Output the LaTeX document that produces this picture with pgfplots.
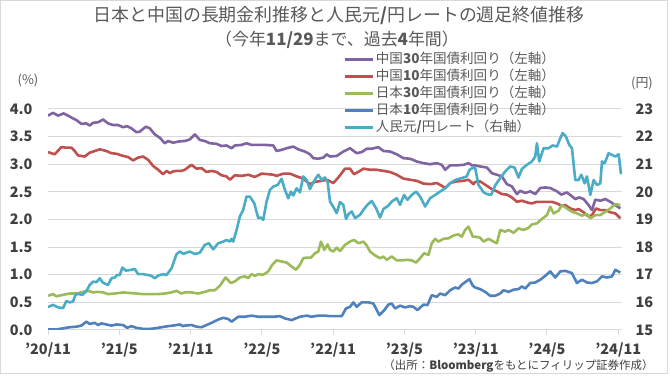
\documentclass[border=0pt]{standalone}
\usepackage{fontspec}
\setmainfont{Noto Sans CJK JP}
\usepackage{pgfplots}
\pgfplotsset{compat=1.18}
\definecolor{cP}{HTML}{8064A2}
\definecolor{cR}{HTML}{C0504D}
\definecolor{cG}{HTML}{9BBB59}
\definecolor{cB}{HTML}{4F81BD}
\definecolor{cC}{HTML}{4BACC6}
\definecolor{tgray}{HTML}{595959}
\definecolor{kgray}{HTML}{404040}
\definecolor{grid}{HTML}{D9D9D9}
\begin{document}
\begin{tikzpicture}
\path[use as bounding box] (0bp,0bp) rectangle (670bp,376bp);
\draw[color=grid, line width=1bp] (0.5bp,2.5bp) rectangle (667.5bp,375.5bp);
\node[font=\fontsize{18}{20}\selectfont, text=tgray] at (339bp,360bp) {日本と中国の長期金利推移と人民元\textbf{/}円レートの週足終値推移};
\node[font=\fontsize{17}{20}\selectfont, text=tgray] at (337bp,336.5bp) {（今年\textbf{11/29}まで、過去\textbf{4}年間）};
\node[font=\fontsize{13}{15}\selectfont, text=tgray] at (28bp,296bp) {(\%)};
\node[font=\fontsize{13}{15}\selectfont, text=tgray] at (642bp,293bp) {(円)};
\node[font=\fontsize{11.5}{13}\selectfont, text=kgray, anchor=east] at (657bp,10bp) {（出所：\textbf{Bloomberg}をもとにフィリップ証券作成）};

\begin{axis}[
  at={(48bp,46bp)}, anchor=south west,
  width=574bp, height=221bp, scale only axis,
  xmin=145, xmax=1865, ymin=0, ymax=4,
  axis x line*=bottom, axis y line*=left,
  x axis line style={-, color=grid, line width=1bp},
  y axis line style={draw=none},
  ytick style={draw=none},
  xtick style={color=grid, line width=1bp},
  tick align=outside, major tick length=5bp,
  xtick={145,358.6,572.2,785.8,999.4,1213,1426.6,1640.2,1853.8},
  xticklabels={’20/11,’21/5,’21/11,’22/5,’22/11,’23/5,’23/11,’24/5,’24/11},
  ytick={0,0.5,...,4},
  ymajorgrids, grid style={color=grid, line width=1bp},
  /pgf/number format/assume math mode=true,
  /pgf/number format/fixed, /pgf/number format/fixed zerofill, /pgf/number format/precision=1,
  ticklabel style={font=\fontsize{14.5}{16}\selectfont\bfseries, text=kgray},
  yticklabel style={xshift=-7bp},
  xticklabel style={yshift=-4bp},
  legend style={at={(0.515,1.262)}, anchor=north west, draw=none, fill=none,
    font=\fontsize{13.6}{15}\selectfont, text=tgray, inner sep=0pt,
    nodes={inner sep=1.5bp, text height=11bp, text depth=3bp}},
  legend cell align=left,
  legend image code/.code={\draw[#1, line width=2.6bp] (0bp,0bp) -- (28bp,0bp);},
  every axis plot/.append style={line width=2.6bp, line join=round},
]
\addplot[cP] coordinates {
(145,3.88)(160,3.93)(175,3.88)(192,3.92)(205,3.88)(220,3.83)(230,3.80)(245,3.73)(260,3.74)(270,3.70)(280,3.75)(295,3.76)(310,3.81)(325,3.74)(340,3.71)(355,3.71)(370,3.67)(382,3.69)(395,3.65)(410,3.58)(420,3.59)(438,3.68)(450,3.65)(465,3.54)(480,3.48)(495,3.38)(505,3.42)(520,3.39)(535,3.41)(550,3.42)
(555,3.42)(570,3.45)(585,3.54)(600,3.44)(615,3.42)(630,3.38)(650,3.37)(665,3.33)(680,3.34)(695,3.29)(705,3.34)(725,3.35)(740,3.38)(755,3.35)(775,3.35)(795,3.35)(820,3.34)(830,3.24)(845,3.26)(860,3.29)(880,3.32)(895,3.27)(915,3.23)(930,3.18)(940,3.11)(955,3.10)(970,3.12)(980,3.18)
(990,3.14)(1010,3.15)(1030,3.23)(1050,3.29)(1070,3.20)(1085,3.22)(1100,3.28)(1115,3.28)(1135,3.31)(1150,3.24)(1170,3.23)(1190,3.18)(1210,3.11)(1230,3.10)(1250,3.05)(1270,3.02)(1290,3.00)(1310,3.02)(1325,2.99)(1335,2.90)(1350,2.98)(1370,2.98)(1390,2.99)(1405,3.02)(1415,2.98)
(1425,2.98)(1440,2.96)(1460,2.94)(1475,2.84)(1490,2.81)(1505,2.78)(1520,2.64)(1535,2.60)(1550,2.46)(1560,2.52)(1575,2.48)(1590,2.51)(1605,2.46)(1620,2.57)(1635,2.58)(1650,2.57)(1670,2.51)(1683,2.45)(1700,2.49)(1715,2.42)(1725,2.37)(1737,2.40)(1750,2.37)(1765,2.26)(1775,2.17)(1785,2.36)(1800,2.34)(1815,2.37)(1830,2.32)(1845,2.26)(1860,2.20)
};
\addlegendentry{中国\textbf{30}年国債利回り（左軸）}
\addplot[cR] coordinates {
(145,3.22)(165,3.18)(185,3.31)(200,3.30)(215,3.30)(225,3.24)(235,3.16)(255,3.14)(270,3.21)(285,3.24)(300,3.27)(320,3.24)(335,3.20)(350,3.19)(365,3.16)(385,3.13)(400,3.07)(415,3.12)(430,3.14)(445,3.08)(460,2.97)(475,2.90)(490,2.82)(500,2.88)(510,2.84)(520,2.87)(530,2.88)(545,2.88)
(555,2.90)(575,2.99)(590,2.92)(605,2.93)(620,2.86)(635,2.88)(650,2.86)(665,2.80)(680,2.78)(690,2.72)(705,2.80)(725,2.79)(745,2.81)(765,2.77)(785,2.83)(805,2.82)(820,2.81)(830,2.79)(850,2.83)(870,2.83)(890,2.78)(910,2.74)(930,2.64)(945,2.68)(965,2.70)(980,2.72)
(990,2.69)(1000,2.66)(1015,2.76)(1035,2.92)(1050,2.92)(1062,2.82)(1080,2.88)(1090,2.92)(1110,2.90)(1130,2.90)(1150,2.88)(1170,2.86)(1190,2.81)(1210,2.74)(1230,2.72)(1250,2.70)(1270,2.65)(1290,2.64)(1310,2.66)(1325,2.61)(1335,2.57)(1350,2.66)(1370,2.69)(1390,2.70)(1405,2.72)(1420,2.64)
(1425,2.68)(1440,2.69)(1455,2.63)(1475,2.55)(1490,2.51)(1505,2.46)(1520,2.45)(1535,2.40)(1550,2.32)(1565,2.34)(1580,2.31)(1595,2.29)(1610,2.32)(1625,2.32)(1640,2.32)(1655,2.32)(1670,2.29)(1683,2.25)(1695,2.26)(1710,2.20)(1725,2.17)(1735,2.19)(1750,2.13)(1765,2.05)(1775,2.08)(1787,2.20)(1800,2.17)(1815,2.17)(1830,2.13)(1845,2.11)(1860,2.02)
};
\addlegendentry{中国\textbf{10}年国債利回り（左軸）}
\addplot[cG] coordinates {
(145,0.62)(160,0.65)(170,0.61)(185,0.63)(210,0.66)(230,0.66)(250,0.69)(265,0.71)(280,0.68)(295,0.69)(310,0.68)(325,0.65)(345,0.66)(370,0.68)(390,0.67)(410,0.66)(430,0.65)(450,0.65)(475,0.65)(495,0.66)(515,0.68)(530,0.71)(545,0.66)
(555,0.68)(575,0.68)(595,0.66)(615,0.69)(630,0.72)(645,0.72)(660,0.80)(677,0.95)(693,0.85)(705,0.88)(720,0.95)(735,0.97)(745,0.94)(755,1.01)(765,0.98)(775,1.01)(790,1.00)(805,1.06)(817,1.18)(830,1.26)(845,1.24)(860,1.22)(875,1.15)(888,1.09)(900,1.18)(910,1.30)(920,1.31)(933,1.31)(945,1.39)(955,1.42)(963,1.60)(973,1.45)(983,1.55)
(990,1.45)(1000,1.42)(1010,1.49)(1020,1.43)(1035,1.54)(1050,1.60)(1062,1.63)(1075,1.57)(1090,1.60)(1100,1.53)(1110,1.42)(1125,1.35)(1140,1.30)(1150,1.33)(1160,1.27)(1175,1.33)(1190,1.26)(1205,1.26)(1220,1.27)(1235,1.26)(1248,1.22)(1260,1.30)(1272,1.39)(1285,1.36)(1295,1.57)(1305,1.65)(1315,1.60)(1330,1.65)(1345,1.66)(1360,1.71)(1375,1.73)(1385,1.69)(1395,1.81)(1405,1.87)(1418,1.69)
(1425,1.69)(1440,1.67)(1450,1.60)(1465,1.65)(1480,1.60)(1490,1.57)(1500,1.81)(1515,1.78)(1525,1.81)(1540,1.76)(1555,1.84)(1570,1.81)(1585,1.85)(1595,1.91)(1610,1.93)(1625,2.01)(1640,2.08)(1650,2.23)(1660,2.11)(1675,2.16)(1685,2.26)(1700,2.20)(1715,2.14)(1730,2.11)(1745,2.07)(1760,2.10)(1770,2.02)(1785,2.08)(1800,2.08)(1815,2.14)(1830,2.20)(1845,2.28)(1860,2.26)
};
\addlegendentry{日本\textbf{30}年国債利回り（左軸）}
\addplot[cB] coordinates {
(145,0.01)(170,0.01)(190,0.03)(210,0.05)(230,0.06)(245,0.08)(260,0.15)(270,0.11)(285,0.13)(295,0.09)(305,0.12)(320,0.10)(335,0.08)(350,0.10)(370,0.09)(382,0.04)(395,0.07)(410,0.04)(430,0.02)(450,0.02)(465,0.03)(485,0.05)(505,0.07)(520,0.08)(540,0.10)(550,0.07)
(555,0.08)(575,0.09)(590,0.06)(605,0.05)(620,0.09)(635,0.13)(655,0.19)(670,0.22)(685,0.20)(695,0.15)(715,0.24)(735,0.24)(755,0.26)(775,0.24)(795,0.24)(820,0.24)(840,0.25)(855,0.21)(875,0.18)(900,0.24)(920,0.26)(935,0.24)(955,0.26)(975,0.26)
(990,0.25)(1010,0.25)(1025,0.25)(1038,0.39)(1050,0.42)(1060,0.50)(1070,0.42)(1085,0.50)(1105,0.50)(1120,0.48)(1138,0.27)(1150,0.34)(1165,0.46)(1175,0.48)(1185,0.39)(1200,0.44)(1215,0.41)(1230,0.43)(1240,0.42)(1252,0.36)(1270,0.46)(1282,0.45)(1295,0.63)(1310,0.60)(1320,0.66)(1335,0.63)(1350,0.72)(1365,0.77)(1375,0.75)(1385,0.82)(1398,0.88)(1408,0.92)(1418,0.80)
(1425,0.77)(1440,0.74)(1455,0.69)(1470,0.62)(1485,0.62)(1500,0.66)(1510,0.72)(1525,0.69)(1540,0.73)(1555,0.74)(1565,0.79)(1575,0.75)(1590,0.85)(1605,0.86)(1620,0.91)(1635,0.98)(1650,1.06)(1665,0.95)(1680,1.06)(1695,1.07)(1715,1.03)(1730,0.85)(1745,0.91)(1760,0.86)(1775,0.85)(1790,0.88)(1805,0.97)(1820,0.95)(1835,0.97)(1845,1.09)(1860,1.04)
};
\addlegendentry{日本\textbf{10}年国債利回り（左軸）}
\addlegendimage{cC, line width=2.6bp}
\addlegendentry{人民元\textbf{/}円レート（右軸）}
\end{axis}

\begin{axis}[
  at={(48bp,46bp)}, anchor=south west,
  width=574bp, height=221bp, scale only axis,
  xmin=145, xmax=1865, ymin=15, ymax=23,
  axis x line=none, axis y line*=right,
  y axis line style={draw=none},
  ytick style={draw=none},
  ytick={15,16,...,23},
  /pgf/number format/assume math mode=true,
  ticklabel style={font=\fontsize{14.5}{16}\selectfont\bfseries, text=kgray},
  yticklabel style={xshift=10bp},
  every axis plot/.append style={line width=2.6bp, line join=round},
]
\addplot[cC] coordinates {
(145,15.83)(160,15.91)(175,15.82)(190,15.79)(200,16.05)(210,16.00)(220,16.03)(228,16.29)(238,16.30)(248,16.27)(260,16.41)(270,16.63)(280,16.75)(290,16.73)(300,16.87)(310,16.71)(325,16.63)(335,16.87)(345,16.90)(352,16.99)(360,16.99)(368,17.26)(378,17.15)(390,17.17)(405,17.21)(415,17.02)(430,17.02)(445,16.99)(455,16.96)(465,16.87)(475,16.97)(490,17.02)(500,16.99)(515,17.23)(530,17.74)(540,17.84)(552,17.75)
(555,17.78)(570,17.84)(585,17.75)(600,17.80)(615,18.08)(627,18.14)(640,17.92)(655,18.14)(670,18.20)(680,18.26)(690,18.20)(695,18.30)(700,18.20)(710,18.62)(720,19.11)(730,19.35)(740,19.83)(750,19.83)(763,19.59)(775,19.05)(783,19.07)(790,18.99)(800,19.65)(810,20.07)(820,20.19)(833,20.25)(845,20.47)(855,20.07)(865,19.77)(873,20.01)(880,19.87)(890,20.13)(900,19.98)(910,20.56)(920,20.43)(930,20.10)(940,20.35)(955,20.62)(965,20.43)(975,20.52)(983,20.35)
(990,19.65)(1002,19.41)(1010,19.23)(1020,19.63)(1030,19.53)(1038,19.02)(1045,19.19)(1055,19.29)(1065,19.05)(1080,19.17)(1090,19.35)(1102,19.53)(1115,19.67)(1128,19.41)(1140,19.07)(1150,19.38)(1165,19.50)(1175,19.65)(1190,19.77)(1200,19.53)(1212,19.89)(1222,19.71)(1235,19.89)(1248,20.01)(1260,19.83)(1275,19.47)(1290,19.77)(1305,19.89)(1320,20.01)(1335,20.13)(1350,20.31)(1365,20.43)(1385,20.50)(1400,20.56)(1408,20.80)(1420,20.88)
(1425,20.86)(1435,20.25)(1450,19.99)(1460,19.92)(1473,19.89)(1485,20.23)(1500,20.50)(1515,20.74)(1530,20.92)(1543,20.88)(1555,20.52)(1565,20.83)(1580,20.98)(1595,21.10)(1605,21.28)(1610,21.76)(1617,21.10)(1630,21.58)(1645,21.58)(1657,21.68)(1670,21.64)(1680,21.94)(1687,22.13)(1697,22.00)(1707,21.70)(1715,21.58)(1725,20.43)(1735,20.43)(1743,20.62)(1753,20.31)(1760,20.56)(1770,19.89)(1780,20.43)(1790,20.25)(1800,20.31)(1805,21.10)(1813,21.04)(1825,21.40)(1835,21.34)(1845,21.28)(1855,21.36)(1862,20.64)
};
\end{axis}
\end{tikzpicture}
\end{document}
